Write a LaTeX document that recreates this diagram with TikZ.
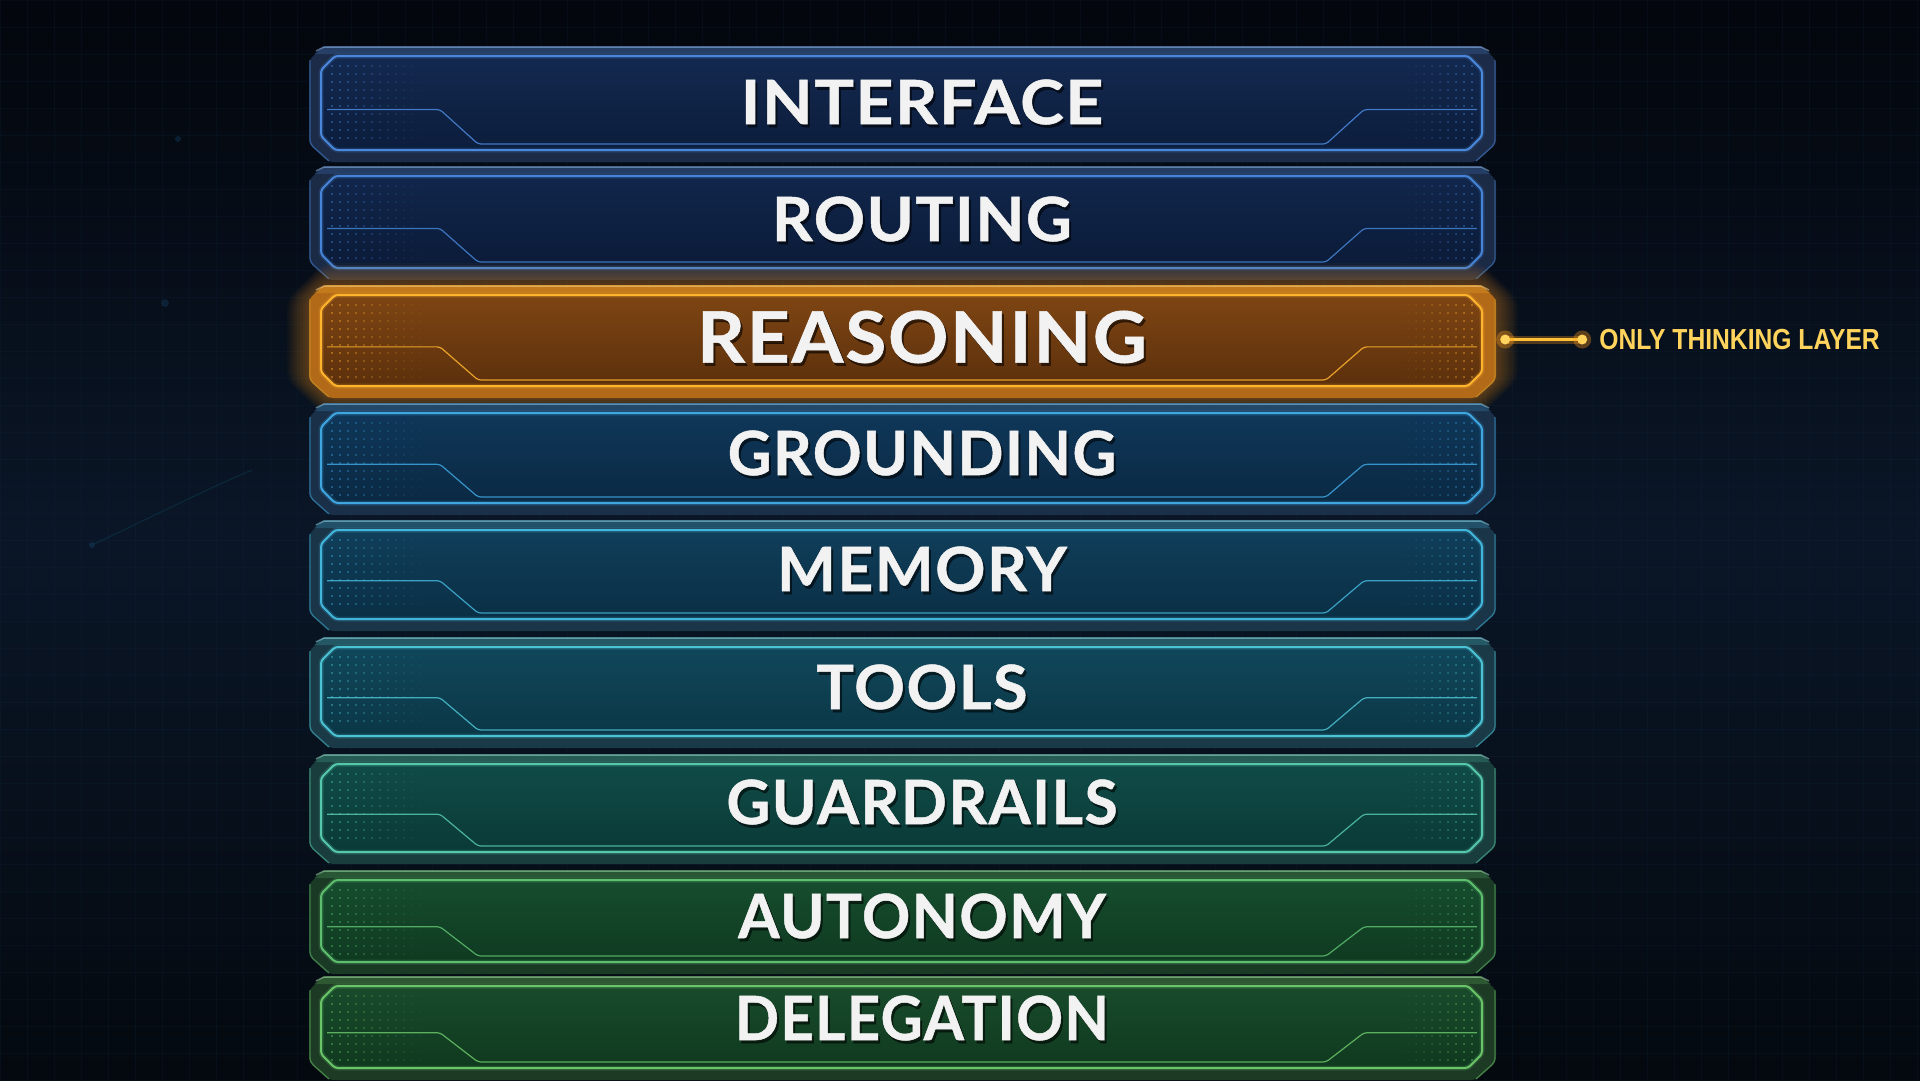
\documentclass[tikz,border=0pt]{standalone}
\usepackage{fontspec}
\setmainfont{Lato}
\newfontfamily\barfont{Lato}[LetterSpace=2.5, BoldFeatures={FakeBold=0.8}]
\newfontfamily\lblfont{Liberation Sans}
\usetikzlibrary{calc}

\definecolor{bgtop}{HTML}{03060C}
\definecolor{bgmid}{HTML}{0A1627}
\definecolor{bgbot}{HTML}{04090F}
\definecolor{gridc}{HTML}{123452}

\definecolor{cIfillT}{HTML}{13294F}\definecolor{cIfillB}{HTML}{0C1D3C}\definecolor{cIbord}{HTML}{4A88DC}\definecolor{cIouter}{HTML}{1C2B47}
\definecolor{cRfillT}{HTML}{11264B}\definecolor{cRfillB}{HTML}{0B1B38}\definecolor{cRbord}{HTML}{4584D6}\definecolor{cRouter}{HTML}{1B2A45}
\definecolor{cSfillT}{HTML}{7E4513}\definecolor{cSfillB}{HTML}{5C300C}\definecolor{cSbord}{HTML}{FFB42E}\definecolor{cSouter}{HTML}{B36A18}
\definecolor{cGfillT}{HTML}{0F3759}\definecolor{cGfillB}{HTML}{0A2943}\definecolor{cGbord}{HTML}{3FA6E0}\definecolor{cGouter}{HTML}{1A3049}
\definecolor{cMfillT}{HTML}{103E5A}\definecolor{cMfillB}{HTML}{0A2F45}\definecolor{cMbord}{HTML}{42B5DA}\definecolor{cMouter}{HTML}{1A3448}
\definecolor{cTfillT}{HTML}{10475A}\definecolor{cTfillB}{HTML}{0B3746}\definecolor{cTbord}{HTML}{4CC3D4}\definecolor{cTouter}{HTML}{193A46}
\definecolor{cUfillT}{HTML}{104B47}\definecolor{cUfillB}{HTML}{0A3A37}\definecolor{cUbord}{HTML}{55C8AC}\definecolor{cUouter}{HTML}{193D3C}
\definecolor{cAfillT}{HTML}{164D2E}\definecolor{cAfillB}{HTML}{0F3A21}\definecolor{cAbord}{HTML}{5DBE6E}\definecolor{cAouter}{HTML}{1B3A26}
\definecolor{cDfillT}{HTML}{184B2B}\definecolor{cDfillB}{HTML}{10391F}\definecolor{cDbord}{HTML}{6AC468}\definecolor{cDouter}{HTML}{1C3A24}
\definecolor{lblc}{HTML}{FFD35C}
\definecolor{connc}{HTML}{FFC13A}
\definecolor{glowc}{HTML}{FF9A1A}

\tikzset{
  bartext/.style={inner sep=0, text=white!95!black},
  barshadow/.style={inner sep=0, text=black, opacity=.55},
  conn/.style={connc, line width=3},
}

% #1 name, #2 colour prefix, #3 top, #4 bottom, #5 text, #6 text y, #7 font size, #8 horizontal scale
\newcommand\layer[8]{%
  \pgfmathsetmacro\Tt{#3}\pgfmathsetmacro\Bb{#4}%
  % outer slab
  \path[fill=#2outer, rounded corners=4] (309,\Tt+14) -- (324,\Tt) -- (1481,\Tt) -- (1496,\Tt+14) -- (1496,\Bb-6) -- (1476,\Bb+12) -- (329,\Bb+12) -- (309,\Bb-6) -- cycle;
  \path[fill=#2bord, opacity=.22] (314,\Tt+8) -- (324,\Tt) -- (1481,\Tt) -- (1491,\Tt+8) -- cycle;
  \draw[#2bord!60!white, opacity=.55, line width=1.5] (316,\Tt+5) -- (324,\Tt+1) -- (1481,\Tt+1) -- (1489,\Tt+5);
  \draw[#2bord!75!black, opacity=.8, line width=1.3, rounded corners=4] (310,\Tt+14) -- (310,\Bb-6) -- (329,\Bb+11);
  \draw[#2bord!75!black, opacity=.8, line width=1.3, rounded corners=4] (1495,\Tt+14) -- (1495,\Bb-6) -- (1476,\Bb+11);
  % inner panel
  \path[top color=#2fillT, bottom color=#2fillB, rounded corners=3] (321,\Tt+24) -- (335,\Tt+10) -- (1468,\Tt+10) -- (1482,\Tt+24) -- (1482,\Bb-14) -- (1468,\Bb) -- (335,\Bb) -- (321,\Bb-14) -- cycle;
  \draw[#2bord, opacity=.2, line width=5, rounded corners=3] (321,\Tt+24) -- (335,\Tt+10) -- (1468,\Tt+10) -- (1482,\Tt+24) -- (1482,\Bb-14) -- (1468,\Bb) -- (335,\Bb) -- (321,\Bb-14) -- cycle;
  \draw[#2bord, line width=2, rounded corners=3] (321,\Tt+24) -- (335,\Tt+10) -- (1468,\Tt+10) -- (1482,\Tt+24) -- (1482,\Bb-14) -- (1468,\Bb) -- (335,\Bb) -- (321,\Bb-14) -- cycle;
  % decorative line
  \pgfmathsetmacro\yd{\Tt+10+0.57*(\Bb-\Tt-10)}\pgfmathsetmacro\yb{\Bb-6}%
  \draw[#2bord, opacity=.85, line width=1.2, rounded corners=3] (327,\yd) -- (440,\yd) -- (478,\yb) -- (1326,\yb) -- (1364,\yd) -- (1477,\yd);
  % dot grids
  \pgfmathsetmacro\ya{\Tt+20}\pgfmathtruncatemacro\nr{(\Bb-\Tt-28)/8}%
  \foreach \i in {0,...,11}{%
    \pgfmathsetmacro\op{0.55*(1-\i/12)}%
    \foreach \j in {0,...,\nr}{\fill[#2bord, opacity=\op] (332+\i*8,\ya+\j*8) circle (1.1);}%
  }%
  \foreach \i in {0,...,8}{%
    \pgfmathsetmacro\op{0.55*(1-\i/9)}%
    \foreach \j in {0,...,\nr}{\fill[#2bord, opacity=\op] (1472-\i*8,\ya+\j*8) circle (1.1);}%
  }%
  % named node for the layer
  \node[inner sep=0, minimum width=1187, minimum height=\Bb-\Tt+12] (#1) at (902.5,{(\Tt+\Bb+12)/2}) {};
  % text
  \node[barshadow, font=\barfont\bfseries\fontsize{#7}{#7}\selectfont] (#1-shadow) at (924,#6+3) {\scalebox{#8}[1]{#5}};
  \node[bartext, font=\barfont\bfseries\fontsize{#7}{#7}\selectfont] (#1-text) at (922,#6) {\scalebox{#8}[1]{#5}};
}

\begin{document}
\begin{tikzpicture}[x=1pt,y=-1pt]
\useasboundingbox (0,0) rectangle (1920,1080);
% background
\shade[top color=bgtop, bottom color=bgbot, middle color=bgmid] (0,0) rectangle (1920,1080);
\foreach \gx in {0,27,...,1920}{\draw[gridc, opacity=.15, line width=.6] (\gx,0) -- (\gx,1080);}
\foreach \gy in {0,27,...,1080}{\draw[gridc, opacity=.15, line width=.6] (0,\gy) -- (1920,\gy);}
\draw[gridc!80!cyan, opacity=.3, line width=1] (92,545) .. controls (150,518) and (200,492) .. (252,470);
\fill[gridc, opacity=.6] (92,545) circle (3);
\fill[gridc, opacity=.5] (165,303) circle (4);
\fill[gridc, opacity=.5] (178,139) circle (3);

\layer{interface}{cI}{46}{150}{INTERFACE}{102}{61}{1.08}
\layer{routing}{cR}{166}{268}{ROUTING}{219}{61}{1.04}
% glow behind reasoning
\foreach \e in {2,4,...,22}{%
  \path[fill=glowc, opacity=.035, rounded corners=10] (309-\e,299) -- (324,285-\e) -- (1481,285-\e) -- (1496+\e,299) -- (1496+\e,380) -- (1476,398+\e) -- (329,398+\e) -- (309-\e,380) -- cycle;}
\layer{reasoning}{cS}{285}{386}{REASONING}{337}{71}{1.05}
\layer{grounding}{cG}{403}{503}{GROUNDING}{453}{61}{0.99}
\layer{memory}{cM}{520}{619}{MEMORY}{569}{61}{1.02}
\layer{tools}{cT}{637}{736}{TOOLS}{687}{61}{1.03}
\layer{guardrails}{cU}{754}{852}{GUARDRAILS}{802}{61}{0.99}
\layer{autonomy}{cA}{870}{962}{AUTONOMY}{916}{61}{0.98}
\layer{delegation}{cD}{976}{1068}{DELEGATION}{1018}{61}{0.95}

% annotation
\node[anchor=west, inner sep=0, text=lblc, font=\lblfont\bfseries\fontsize{29}{29}\selectfont] (note) at ($(reasoning.east)+(103,-2)$) {\scalebox{0.85}[1]{ONLY THINKING LAYER}};
\coordinate (ca) at ($(reasoning.east)+(9,-2)$);
\coordinate (cb) at ($(note.west)+(-17,0)$);
\draw[glowc, opacity=.3, line width=8] (ca) -- (cb);
\draw[conn] (ca) -- (cb);
\fill[glowc, opacity=.35] (ca) circle (9);
\fill[glowc, opacity=.35] (cb) circle (9);
\fill[lblc] (ca) circle (5);
\fill[lblc] (cb) circle (5);
\end{tikzpicture}
\end{document}
